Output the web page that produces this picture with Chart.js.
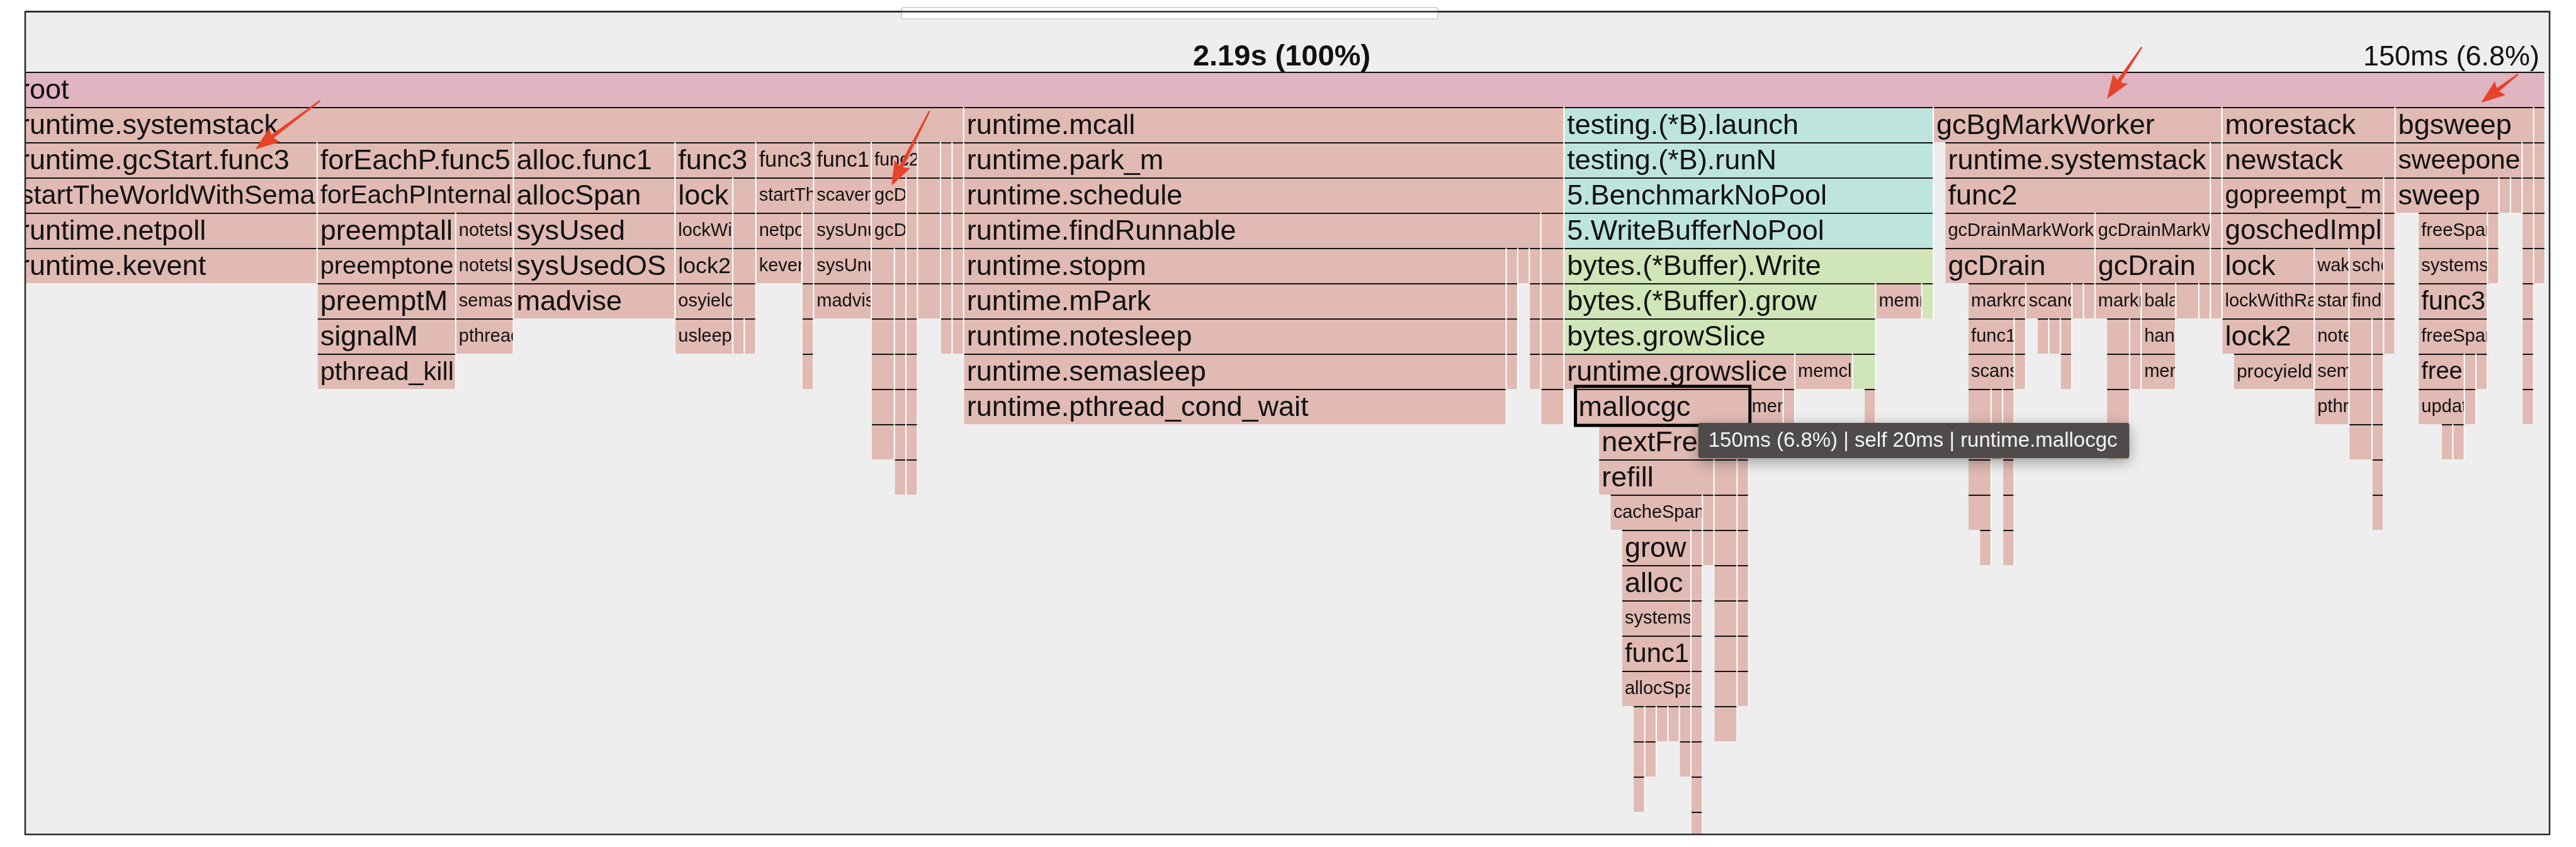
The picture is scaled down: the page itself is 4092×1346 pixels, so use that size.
<!DOCTYPE html>
<html>
<head>
<meta charset="utf-8">
<title>flame graph</title>
<script src="https://cdn.jsdelivr.net/npm/chart.js@4.4.0/dist/chart.umd.min.js"></script>
<style>
  html, body { margin: 0; padding: 0; background: #fff; }
  canvas { display: block; }
</style>
</head>
<body>
<canvas id="flame_chart_id" width="4092" height="1346"></canvas>
<script>
// one array per stack depth: [function, start ms, end ms]
const d0 = [['root', 0, 2190]];
const d1 = [
  ['runtime.systemstack', 0, 820], ['runtime.mcall', 820, 1340], ['testing.(*B).launch', 1340, 1660],
  ['runtime.gcBgMarkWorker', 1660, 1910], ['runtime.morestack', 1910, 2060], ['runtime.bgsweep', 2060, 2180],
  ['runtime.bgscavenge', 2180, 2190]
];
const d2 = [
  ['runtime.gcStart.func3', 0, 260], ['runtime.forEachP.func5', 260, 430], ['runtime.(*mheap).alloc.func1', 430, 570],
  ['runtime.gcMarkDone.func3', 570, 640], ['runtime.gcMarkTermination.func3', 640, 690], ['runtime.bgscavenge.func1', 690, 740],
  ['runtime.gcBgMarkWorker.func2', 740, 780], ['runtime.(*mheap).freeSpan.func1', 780, 800],
  ['runtime.gcMarkTermination.func1', 800, 810], ['runtime.gcMarkDone.func1', 810, 820],
  ['runtime.park_m', 820, 1340], ['testing.(*B).runN', 1340, 1660],
  ['runtime.systemstack', 1670, 1900], ['runtime.gcMarkDone', 1900, 1910],
  ['runtime.newstack', 1910, 2060], ['runtime.sweepone', 2060, 2170], ['runtime.gosweepone', 2170, 2180],
  ['runtime.(*scavengerState).run', 2180, 2190]
];
const d3 = [
  ['runtime.startTheWorldWithSema', 0, 260], ['runtime.forEachPInternal', 260, 430], ['runtime.(*mheap).allocSpan', 430, 570],
  ['runtime.lock', 570, 620], ['runtime.unlock', 620, 640], ['runtime.startTheWorldWithSema', 640, 690],
  ['runtime.(*pageAlloc).scavenge', 690, 740], ['runtime.gcDrainMarkWorkerIdle', 740, 770],
  ['runtime.gcDrainMarkWorkerDedicated', 770, 780], ['runtime.(*mheap).freeSpanLocked', 780, 800],
  ['runtime.gcResetMarkState', 800, 810], ['runtime.gcMarkRootPrepare', 810, 820],
  ['runtime.schedule', 820, 1340], ['5.BenchmarkNoPool', 1340, 1660],
  ['runtime.gcBgMarkWorker.func2', 1670, 1900], ['runtime.semrelease', 1900, 1910],
  ['runtime.gopreempt_m', 1910, 2050], ['runtime.copystack', 2050, 2060],
  ['runtime.(*sweepLocked).sweep', 2060, 2150], ['runtime.(*mspan).ensureSwept', 2150, 2160],
  ['runtime.lock', 2160, 2170], ['runtime.sweepone', 2170, 2180], ['runtime.(*pageAlloc).scavenge', 2180, 2190]
];
const d4 = [
  ['runtime.netpoll', 0, 260], ['runtime.preemptall', 260, 380], ['runtime.notetsleep', 380, 430],
  ['runtime.sysUsed', 430, 570], ['runtime.lockWithRank', 570, 620], ['runtime.unlockWithRank', 620, 640],
  ['runtime.netpoll', 640, 680], ['runtime.wakep', 680, 690], ['runtime.sysUnused', 690, 740],
  ['runtime.gcDrain', 740, 770], ['runtime.gcDrain', 770, 780], ['runtime.(*pageAlloc).free', 780, 800],
  ['runtime.forEachP', 800, 810], ['runtime.markroot', 810, 820],
  ['runtime.findRunnable', 820, 1320], ['runtime.checkTimers', 1320, 1340], ['5.WriteBufferNoPool', 1340, 1660],
  ['runtime.gcDrainMarkWorkerIdle', 1670, 1800], ['runtime.gcDrainMarkWorkerDedicated', 1800, 1900],
  ['runtime.semrelease1', 1900, 1910], ['runtime.goschedImpl', 1910, 2050], ['runtime.gentraceback', 2050, 2060],
  ['runtime.(*mheap).freeSpan', 2080, 2140], ['runtime.(*mheap).nextSpanForSweep', 2140, 2150],
  ['runtime.(*sweepLocked).sweep', 2170, 2180], ['runtime.(*pageAlloc).scavengeOne', 2180, 2190]
];
const d5 = [
  ['runtime.kevent', 0, 260], ['runtime.preemptone', 260, 380], ['runtime.notetsleep_internal', 380, 430],
  ['runtime.sysUsedOS', 430, 570], ['runtime.lock2', 570, 620], ['runtime.unlock2', 620, 640],
  ['runtime.kevent', 640, 680], ['runtime.startm', 680, 690], ['runtime.sysUnusedOS', 690, 740],
  ['runtime.markroot', 740, 760], ['runtime.scanobject', 760, 770], ['runtime.markroot', 770, 780],
  ['runtime.(*pageAlloc).update', 780, 800], ['runtime.systemstack', 800, 810], ['runtime.markrootSpans', 810, 820],
  ['runtime.stopm', 820, 1290], ['runtime.netpoll', 1290, 1300], ['runtime.checkRunqsNoP', 1300, 1310],
  ['runtime.stealWork', 1310, 1320], ['runtime.runtimer', 1320, 1340], ['bytes.(*Buffer).Write', 1340, 1660],
  ['runtime.gcDrain', 1670, 1800], ['runtime.gcDrain', 1800, 1900], ['runtime.readyWithTime', 1900, 1910],
  ['runtime.lock', 1910, 1990], ['runtime.wakep', 1990, 2020], ['runtime.schedule', 2020, 2050],
  ['runtime.(*unwinder).next', 2050, 2060], ['runtime.systemstack', 2080, 2140], ['runtime.(*mspan).init', 2140, 2150],
  ['runtime.(*mheap).freeSpan', 2170, 2180], ['runtime.sysUnused', 2180, 2190]
];
const d6 = [
  ['runtime.preemptM', 260, 380], ['runtime.semasleep', 380, 430], ['runtime.madvise', 430, 570],
  ['runtime.osyield', 570, 620], ['runtime.semawakeup', 620, 640], ['runtime.notewakeup', 680, 690],
  ['runtime.madvise', 690, 740], ['runtime.markrootBlock', 740, 760], ['runtime.greyobject', 760, 770],
  ['runtime.scanstack', 770, 780], ['runtime.(*pallocBits).summarize', 780, 800], ['runtime.forEachP.func1', 800, 810],
  ['runtime.markrootSpans.func1', 810, 820],
  ['runtime.mPark', 820, 1290], ['runtime.kevent', 1290, 1300], ['runtime.runqsteal', 1310, 1320],
  ['runtime.runOneTimer', 1320, 1340], ['bytes.(*Buffer).grow', 1340, 1610], ['runtime.memmove', 1610, 1650],
  ['bytes.(*Buffer).tryGrowByReslice', 1650, 1660],
  ['runtime.markroot', 1690, 1740], ['runtime.scanobject', 1740, 1780], ['runtime.(*gcWork).tryGet', 1780, 1790],
  ['runtime.(*gcWork).tryGetFast', 1790, 1800], ['runtime.markroot', 1800, 1840], ['runtime.(*gcWork).balance', 1840, 1870],
  ['runtime.scanobject', 1870, 1890], ['runtime.(*gcWork).tryGetFast', 1890, 1900], ['runtime.goready', 1900, 1910],
  ['runtime.lockWithRank', 1910, 1990], ['runtime.startm', 1990, 2020], ['runtime.findRunnable', 2020, 2050],
  ['runtime.findfunc', 2050, 2060], ['runtime.(*mheap).freeSpan.func3', 2080, 2140], ['runtime.systemstack', 2170, 2180]
];
const d7 = [
  ['runtime.signalM', 260, 380], ['runtime.pthread_cond_timedwait_relative_np', 380, 430],
  ['runtime.usleep', 570, 620], ['runtime.pthread_mutex_lock', 620, 630], ['runtime.pthread_cond_signal', 630, 640],
  ['runtime.semawakeup', 680, 690], ['runtime.scanblock', 740, 760], ['runtime.findObject', 760, 770],
  ['runtime.scanframeworker', 770, 780], ['runtime.(*gcWork).dispose', 800, 810], ['runtime.spanOfHeap', 810, 820],
  ['runtime.notesleep', 820, 1290], ['runtime.netpollready', 1290, 1300], ['runtime.runqgrab', 1310, 1320],
  ['runtime.goroutineReady', 1320, 1340], ['bytes.growSlice', 1340, 1610],
  ['runtime.markroot.func1', 1690, 1730], ['runtime.markrootSpans', 1730, 1740], ['runtime.greyobject', 1750, 1760],
  ['runtime.findObject', 1760, 1770], ['runtime.(*gcWork).putFast', 1770, 1780], ['runtime.markrootBlock', 1810, 1830],
  ['runtime.markrootSpans', 1830, 1840], ['runtime.handoff', 1840, 1870],
  ['runtime.lock2', 1910, 1990], ['runtime.notewakeup', 1990, 2020], ['runtime.stealWork', 2020, 2040],
  ['runtime.checkTimers', 2040, 2050], ['runtime.pcvalue', 2050, 2060],
  ['runtime.(*mheap).freeSpanLocked', 2080, 2140], ['runtime.(*mheap).freeSpan.func1', 2170, 2180]
];
const d8 = [
  ['runtime.pthread_kill', 260, 380], ['runtime.pthread_cond_signal', 680, 690], ['runtime.greyobject', 740, 760],
  ['runtime.spanOf', 760, 770], ['runtime.scanblock', 770, 780],
  ['runtime.semasleep', 820, 1290], ['runtime.netpollunblock', 1290, 1300], ['runtime.usleep', 1310, 1320],
  ['runtime.ready', 1320, 1340], ['runtime.growslice', 1340, 1540], ['runtime.memclrNoHeapPointers', 1540, 1590],
  ['bytes.growSlice.func1', 1590, 1610],
  ['runtime.scanstack', 1690, 1730], ['runtime.(*mspan).markBitsForIndex', 1730, 1740], ['runtime.(*gcWork).put', 1770, 1780],
  ['runtime.scanblock', 1810, 1830], ['runtime.markBits.setMarked', 1830, 1840], ['runtime.memmove', 1840, 1870],
  ['runtime.procyield', 1920, 1990], ['runtime.semawakeup', 1990, 2020], ['runtime.runqsteal', 2020, 2040],
  ['runtime.runtimer', 2040, 2050], ['runtime.(*pageAlloc).free', 2080, 2120], ['runtime.(*pageAlloc).update', 2120, 2130],
  ['runtime.(*fixalloc).free', 2130, 2140], ['runtime.(*pageAlloc).free', 2170, 2180]
];
const d9 = [
  ['runtime.(*gcWork).put', 740, 760], ['runtime.findObject', 760, 770], ['runtime.greyobject', 770, 780],
  ['runtime.pthread_cond_wait', 820, 1290], ['runtime.goready', 1320, 1340],
  ['runtime.mallocgc', 1350, 1500], ['runtime.memclrNoHeapPointers', 1500, 1530], ['runtime.heapBitsSetType', 1530, 1540],
  ['runtime.deferreturn', 1600, 1610],
  ['runtime.scanframeworker', 1690, 1710], ['runtime.(*unwinder).next', 1710, 1720], ['runtime.(*unwinder).init', 1720, 1730],
  ['runtime.greyobject', 1810, 1830], ['runtime.pthread_cond_signal', 1990, 2020], ['runtime.runqgrab', 2020, 2040],
  ['runtime.runOneTimer', 2040, 2050], ['runtime.(*pageAlloc).update', 2080, 2120],
  ['runtime.(*pallocBits).summarize', 2120, 2130], ['runtime.(*pageAlloc).update', 2170, 2180]
];
const d10 = [
  ['runtime.(*gcWork).init', 740, 760], ['runtime.spanOf', 760, 770], ['runtime.(*gcWork).putFast', 770, 780],
  ['runtime.(*mcache).nextFree', 1370, 1500],
  ['runtime.scanblock', 1690, 1710], ['runtime.findfunc', 1710, 1720], ['runtime.(*unwinder).resolveInternal', 1720, 1730],
  ['runtime.findObject', 1810, 1820], ['runtime.(*gcWork).putFast', 1820, 1830],
  ['runtime.usleep', 2020, 2040], ['runtime.goready', 2040, 2050],
  ['runtime.(*pallocBits).summarize', 2100, 2110], ['runtime.mergeSummaries', 2110, 2120]
];
const d11 = [
  ['runtime.getempty', 760, 770], ['runtime.spanOfUnchecked', 770, 780],
  ['runtime.(*mcache).refill', 1370, 1470], ['runtime.(*mcentral).uncacheSpan', 1470, 1490], ['runtime.(*spanSet).pop', 1490, 1500],
  ['runtime.greyobject', 1690, 1710], ['runtime.funcInfo.entry', 1720, 1730], ['runtime.systemstack', 2040, 2050]
];
const d12 = [
  ['runtime.(*mcentral).cacheSpan', 1380, 1460], ['runtime.(*mcentral).partialSwept', 1460, 1470],
  ['runtime.(*spanSet).push', 1470, 1490], ['runtime.(*headTailIndex).cas', 1490, 1500],
  ['runtime.findObject', 1690, 1710], ['runtime.(*moduledata).textOff', 1720, 1730], ['runtime.ready', 2040, 2050]
];
const d13 = [
  ['runtime.(*mcentral).grow', 1390, 1450], ['runtime.heapBitsForAddr', 1450, 1460], ['runtime.(*spanSet).pop', 1460, 1470],
  ['runtime.(*spanSetBlockAlloc).alloc', 1470, 1490], ['runtime.(*atomicHeadTailIndex).cas', 1490, 1500],
  ['runtime.spanOf', 1700, 1710], ['runtime.pcvalue', 1720, 1730]
];
const d14 = [
  ['runtime.(*mheap).alloc', 1390, 1450], ['runtime.(*mspan).initHeapBits', 1450, 1460],
  ['runtime.persistentalloc', 1470, 1490], ['runtime.(*Uint64).CompareAndSwap', 1490, 1500]
];
const d15 = [
  ['runtime.systemstack', 1390, 1450], ['runtime.memclrNoHeapPointers', 1450, 1460],
  ['runtime.systemstack', 1470, 1490], ['runtime.cas64', 1490, 1500]
];
const d16 = [
  ['runtime.(*mheap).alloc.func1', 1390, 1450], ['runtime.madvise', 1450, 1460],
  ['runtime.persistentalloc.func1', 1470, 1490], ['runtime.procyield', 1490, 1500]
];
const d17 = [
  ['runtime.(*mheap).allocSpan', 1390, 1450], ['runtime.sysUsed', 1450, 1460],
  ['runtime.persistentalloc1', 1470, 1490], ['runtime.osyield', 1490, 1500]
];
const d18 = [
  ['runtime.(*mheap).allocMSpanLocked', 1400, 1410], ['runtime.(*pageAlloc).alloc', 1410, 1420],
  ['runtime.(*mspan).init', 1420, 1430], ['runtime.(*mheap).initSpan', 1430, 1440], ['runtime.lock', 1440, 1450],
  ['runtime.sysUsedOS', 1450, 1460], ['runtime.sysAlloc', 1470, 1490]
];
const d19 = [
  ['runtime.(*fixalloc).alloc', 1400, 1410], ['runtime.(*pageAlloc).allocRange', 1410, 1420],
  ['runtime.lockWithRank', 1440, 1450], ['runtime.madvise', 1450, 1460]
];
const d20 = [['runtime.persistentalloc', 1400, 1410], ['runtime.libcCall', 1450, 1460]];
const d21 = [['runtime.asmcgocall', 1450, 1460]];

const levels = [d0, d1, d2, d3, d4, d5, d6, d7, d8, d9, d10, d11, d12, d13, d14, d15, d16, d17, d18, d19, d20, d21];
const totalMs = 2190;
const selectedName = 'runtime.mallocgc';
const selectedDepth = 9;

// red annotation arrows, in [ms, row] space: tail then tip
const arrows = [
  [262, 0.82, 206, 2.20],
  [790, 1.11, 757, 3.23],
  [1840, -0.70, 1810, 0.77],
  [2166, 0.07, 2134, 0.88]
];

const FONT = '"Liberation Sans", Arial, Helvetica, sans-serif';
const BIG = 45;    // label font when it fits
const SMALL = 29;  // smallest label font before clipping
const palette = { root: '#e0b4c1', runtime: '#e0bab3', testing: '#bde5de', bytes: '#d0e5b8' };

function groupOf(name) {
  if (name === 'root') return 'root';
  if (name.indexOf('testing.') === 0 || name.indexOf('5.') === 0) return 'testing';
  if (name.indexOf('bytes.') === 0) return 'bytes';
  return 'runtime';
}

var frames = [];
levels.forEach(function (list, depth) {
  list.forEach(function (f) {
    frames.push({ x: [f[1], f[2]], y: String(depth), name: f[0], depth: depth });
  });
});
var depthLabels = levels.map(function (l, i) { return String(i); });

// full name, then "type.method", then last segment; shrink font, then clip
function fitLabel(ctx, name, avail) {
  var parts = name.split('.');
  var cands = [name];
  if (parts.length > 2) cands.push(parts.slice(-2).join('.'));
  if (parts.length > 1) cands.push(parts[parts.length - 1]);
  ctx.font = BIG + 'px ' + FONT;
  for (var i = 0; i < cands.length; i++) {
    if (ctx.measureText(cands[i]).width <= avail) return { text: cands[i], size: BIG };
  }
  var last = cands[cands.length - 1];
  var w = ctx.measureText(last).width;
  return { text: last, size: Math.max(SMALL, BIG * avail / w) };
}

function barBox(el) {
  var p = el.getProps(['x', 'y', 'base', 'height'], true);
  var left = Math.min(p.x, p.base);
  var right = Math.max(p.x, p.base);
  return { left: left, right: right, top: p.y - p.height / 2, h: p.height, w: right - left };
}

function drawArrow(ctx, x1, y1, x2, y2) {
  var ang = Math.atan2(y2 - y1, x2 - x1);
  var len = Math.hypot(x2 - x1, y2 - y1);
  ctx.save();
  ctx.translate(x1, y1);
  ctx.rotate(ang);
  ctx.fillStyle = '#e5432a';
  ctx.beginPath();
  ctx.moveTo(0, -1.2);
  ctx.lineTo(len - 34, -3.2);
  ctx.lineTo(len - 38, -14);
  ctx.lineTo(len, 0);
  ctx.lineTo(len - 38, 14);
  ctx.lineTo(len - 34, 3.2);
  ctx.lineTo(0, 1.2);
  ctx.closePath();
  ctx.fill();
  ctx.restore();
}

const flamePlugin = {
  id: 'flame',
  beforeDraw: function (chart) {
    var ctx = chart.ctx;
    ctx.save();
    ctx.fillStyle = '#eeeeee';
    ctx.fillRect(0, 0, chart.width, chart.height);
    ctx.restore();
  },
  afterDatasetsDraw: function (chart) {
    var ctx = chart.ctx;
    var meta = chart.getDatasetMeta(0);
    ctx.save();
    meta.data.forEach(function (el, i) {
      var b = barBox(el);
      ctx.fillStyle = '#141414';
      ctx.fillRect(b.left, b.top, b.w, 2);
      ctx.fillStyle = '#ffffff';
      ctx.fillRect(b.right - 2, b.top, 2, b.h);
      if (b.w < 45) return;
      var lab = fitLabel(ctx, frames[i].name, b.w - 8);
      ctx.save();
      ctx.beginPath();
      ctx.rect(b.left, b.top + 2, b.w - 2, b.h - 2);
      ctx.clip();
      ctx.font = lab.size.toFixed(1) + 'px ' + FONT;
      ctx.fillStyle = '#111';
      ctx.textBaseline = 'alphabetic';
      ctx.fillText(lab.text, b.left + 4, b.top + 27 + 0.35 * lab.size);
      ctx.restore();
    });
    ctx.restore();
  },
  afterDraw: function (chart) {
    var ctx = chart.ctx;
    var W = chart.width, H = chart.height;
    var fx0 = 40, fy0 = 18.5, fx1 = 4050, fy1 = 1326;
    ctx.save();
    // page outside the frame
    ctx.fillStyle = '#ffffff';
    ctx.fillRect(0, 0, fx0, H);
    ctx.fillRect(fx1, 0, W - fx1, H);
    ctx.fillRect(0, 0, W, fy0);
    ctx.fillRect(0, fy1, W, H - fy1);
    ctx.strokeStyle = '#2a2a2a';
    ctx.lineWidth = 2.5;
    ctx.strokeRect(fx0, fy0, fx1 - fx0, fy1 - fy0);

    // search box edge under the top border
    ctx.fillStyle = '#ffffff';
    ctx.strokeStyle = '#c9c9c9';
    ctx.lineWidth = 1.5;
    ctx.beginPath();
    ctx.roundRect(1432, 12, 852, 18, 3);
    ctx.fill();
    ctx.stroke();
    ctx.strokeStyle = '#2a2a2a';
    ctx.lineWidth = 2.5;
    ctx.beginPath();
    ctx.moveTo(fx0, fy0);
    ctx.lineTo(fx1, fy0);
    ctx.stroke();

    // selected frame
    var idx = frames.findIndex(function (f) { return f.name === selectedName && f.depth === selectedDepth; });
    var sel = frames[idx];
    var dur = sel.x[1] - sel.x[0];
    var childMs = frames.filter(function (f) {
      return f.depth === sel.depth + 1 && f.x[0] >= sel.x[0] && f.x[1] <= sel.x[1];
    }).reduce(function (s, f) { return s + f.x[1] - f.x[0]; }, 0);
    var pct = (dur / totalMs * 100).toFixed(1);

    // header texts
    ctx.fillStyle = '#111';
    ctx.textBaseline = 'alphabetic';
    ctx.font = 'bold 47px ' + FONT;
    ctx.textAlign = 'center';
    ctx.fillText((totalMs / 1000).toFixed(2) + 's (100%)', 2036, 104);
    ctx.font = '45px ' + FONT;
    ctx.textAlign = 'right';
    ctx.fillText(dur + 'ms (' + pct + '%)', 4034, 104);
    ctx.textAlign = 'left';

    // highlight box
    var b = barBox(chart.getDatasetMeta(0).data[idx]);
    ctx.strokeStyle = '#000';
    ctx.lineWidth = 5;
    ctx.strokeRect(b.left - 1, b.top - 4, b.w + 2, b.h + 6);

    // tooltip
    var tip = dur + 'ms (' + pct + '%) | self ' + (dur - childMs) + 'ms | ' + sel.name;
    ctx.font = '33px ' + FONT;
    var tw = ctx.measureText(tip).width;
    var tx = b.right - 81, ty = b.top + b.h - 2;
    ctx.save();
    ctx.shadowColor = 'rgba(0,0,0,0.35)';
    ctx.shadowBlur = 22;
    ctx.shadowOffsetY = 6;
    ctx.fillStyle = '#4f4b4b';
    ctx.beginPath();
    ctx.roundRect(tx, ty, tw + 35, 56, 4);
    ctx.fill();
    ctx.restore();
    ctx.fillStyle = '#f4f4f4';
    ctx.textBaseline = 'middle';
    ctx.fillText(tip, tx + 16, ty + 29);

    // annotation arrows
    var xs = chart.scales.x;
    var top = chart.chartArea.top;
    var rowH = (chart.chartArea.bottom - top) / levels.length;
    arrows.forEach(function (a) {
      drawArrow(ctx, xs.getPixelForValue(a[0]), top + a[1] * rowH, xs.getPixelForValue(a[2]), top + a[3] * rowH);
    });
    ctx.restore();
  }
};

const ctx1 = document.getElementById('flame_chart_id');
new Chart(ctx1, {
  type: 'bar',
  data: {
    labels: depthLabels,
    datasets: [{
      data: frames,
      backgroundColor: function (c) { return c.raw ? palette[groupOf(c.raw.name)] : palette.runtime; },
      borderWidth: 0,
      barPercentage: 1,
      categoryPercentage: 1,
      inflateAmount: 0
    }]
  },
  options: {
    indexAxis: 'y',
    responsive: false,
    animation: false,
    devicePixelRatio: 1,
    layout: { padding: { left: 28, right: 48, top: 114, bottom: 0 } },
    scales: {
      x: { type: 'linear', min: 0, max: totalMs, display: false },
      y: { type: 'category', display: false }
    },
    plugins: { legend: { display: false }, tooltip: { enabled: false } }
  },
  plugins: [flamePlugin]
});
</script>
</body>
</html>
